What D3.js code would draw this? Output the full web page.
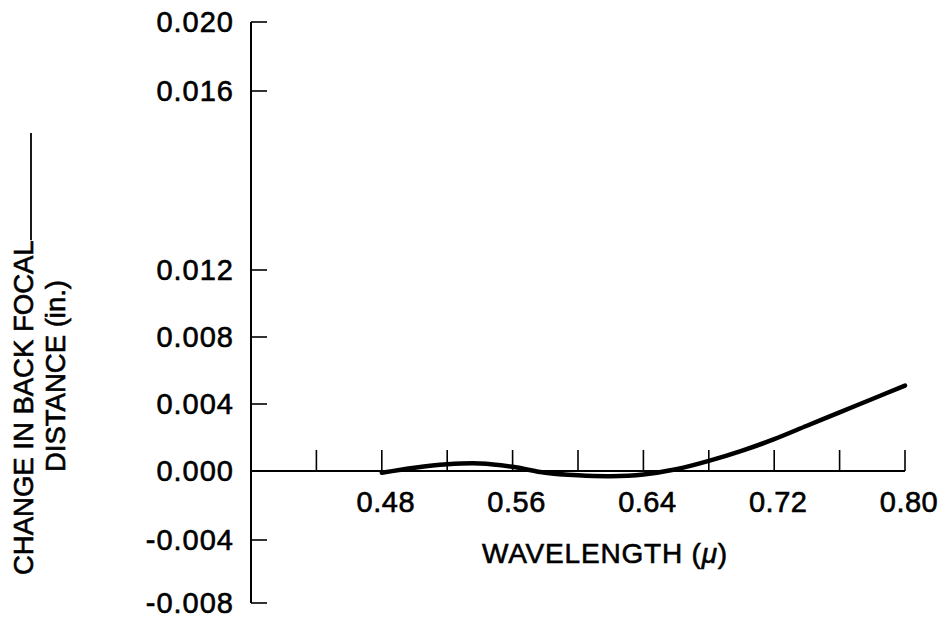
<!DOCTYPE html>
<html>
<head>
<meta charset="utf-8">
<script src="https://cdn.jsdelivr.net/npm/d3@7"></script>
<style>
  html, body { margin: 0; padding: 0; background: #fff; }
  svg { display: block; font-family: "Liberation Sans", Arial, sans-serif; }
  text { fill: #000; stroke: #000; stroke-width: 0.6; }
</style>
</head>
<body>
<svg id="chart"></svg>
<script>
// wavelength (microns) vs change in back focal distance (in.)
const wavelength = [0.48, 0.50, 0.52, 0.54, 0.56, 0.58, 0.60, 0.62, 0.64, 0.66, 0.68, 0.70, 0.72, 0.74, 0.76, 0.78, 0.80];
const focalShift = [-0.0001, 0.0002, 0.0004, 0.00045, 0.00025, -0.0001, -0.00025, -0.0003, -0.0002, 0.0001, 0.0006, 0.0012, 0.0019, 0.0027, 0.0035, 0.0043, 0.0051];

const xTicks = [0.44, 0.48, 0.52, 0.56, 0.60, 0.64, 0.68, 0.72, 0.76, 0.80];
const xTickLabels = [0.48, 0.56, 0.64, 0.72, 0.80];
// the drawing's y axis is not evenly spaced (gap between 0.012 and 0.016)
const yTicks = [-0.008, -0.004, 0.000, 0.004, 0.008, 0.012, 0.016, 0.020];

const width = 949;
const height = 619;

const svg = d3.select("#chart")
  .attr("width", width)
  .attr("height", height);

const xScale = d3.scaleLinear()
  .domain([0.40, 0.80])
  .range([251, 905]);

const yScale = d3.scaleLinear()
  .domain(yTicks)
  .range([603, 540, 471, 404, 337, 270, 91, 22]);

const y0 = yScale(0);
const fmt = d3.format(".3f");

// ===== Y AXIS =====
svg.append("line")
  .attr("x1", xScale(0.40))
  .attr("x2", xScale(0.40))
  .attr("y1", yScale(0.020))
  .attr("y2", yScale(-0.008))
  .attr("stroke", "#000")
  .attr("stroke-width", 2);

const yAxis = svg.append("g");

yAxis.selectAll("line")
  .data(yTicks)
  .enter()
  .append("line")
  .attr("x1", xScale(0.40))
  .attr("x2", xScale(0.40) + 16)
  .attr("y1", d => yScale(d))
  .attr("y2", d => yScale(d))
  .attr("stroke", "#000")
  .attr("stroke-width", 1.6);

yAxis.selectAll("text")
  .data(yTicks)
  .enter()
  .append("text")
  .attr("x", 234)
  .attr("y", d => yScale(d))
  .attr("dy", "0.36em")
  .attr("text-anchor", "end")
  .attr("font-size", 29)
  .attr("letter-spacing", 1)
  .text(d => d < 0 ? "-" + fmt(-d) : fmt(d));

// ===== X AXIS =====
svg.append("line")
  .attr("x1", xScale(0.40))
  .attr("x2", xScale(0.80))
  .attr("y1", y0)
  .attr("y2", y0)
  .attr("stroke", "#000")
  .attr("stroke-width", 2);

const xAxis = svg.append("g");

xAxis.selectAll("line")
  .data(xTicks)
  .enter()
  .append("line")
  .attr("x1", d => xScale(d))
  .attr("x2", d => xScale(d))
  .attr("y1", y0)
  .attr("y2", y0 - 21)
  .attr("stroke", "#000")
  .attr("stroke-width", 1.6);

xAxis.selectAll("text")
  .data(xTickLabels)
  .enter()
  .append("text")
  .attr("x", d => xScale(d) + 4)
  .attr("y", 512)
  .attr("text-anchor", "middle")
  .attr("font-size", 29)
  .attr("letter-spacing", 0.5)
  .text(d => d.toFixed(2));

// ===== AXIS LABELS =====
const xLabel = svg.append("text")
  .attr("x", 482)
  .attr("y", 563)
  .attr("font-size", 28)
  .attr("letter-spacing", 0.8)
  .text("WAVELENGTH (");
xLabel.append("tspan")
  .attr("font-style", "italic")
  .text("\u03bc");
xLabel.append("tspan")
  .text(")");

const yLabel1 = svg.append("text")
  .attr("transform", "translate(33,575) rotate(-90)")
  .attr("font-size", 27.5)
  .text("CHANGE IN BACK FOCAL");

svg.append("text")
  .attr("transform", "translate(65,472) rotate(-90)")
  .attr("font-size", 27.5)
  .text("DISTANCE (in.)");

// rule continuing from the end of the first label line
const labelLen = yLabel1.node().getComputedTextLength();
svg.append("line")
  .attr("x1", 31)
  .attr("x2", 31)
  .attr("y1", 575 - labelLen)
  .attr("y2", 133)
  .attr("stroke", "#000")
  .attr("stroke-width", 1.8);

// ===== CURVE =====
const points = wavelength.map((w, i) => ({ w: w, v: focalShift[i] }));

const line = d3.line()
  .x(d => xScale(d.w))
  .y(d => yScale(d.v))
  .curve(d3.curveCatmullRom);

svg.append("path")
  .datum(points)
  .attr("fill", "none")
  .attr("stroke", "#000")
  .attr("stroke-width", 4.5)
  .attr("stroke-linecap", "round")
  .attr("d", line);
</script>
</body>
</html>
